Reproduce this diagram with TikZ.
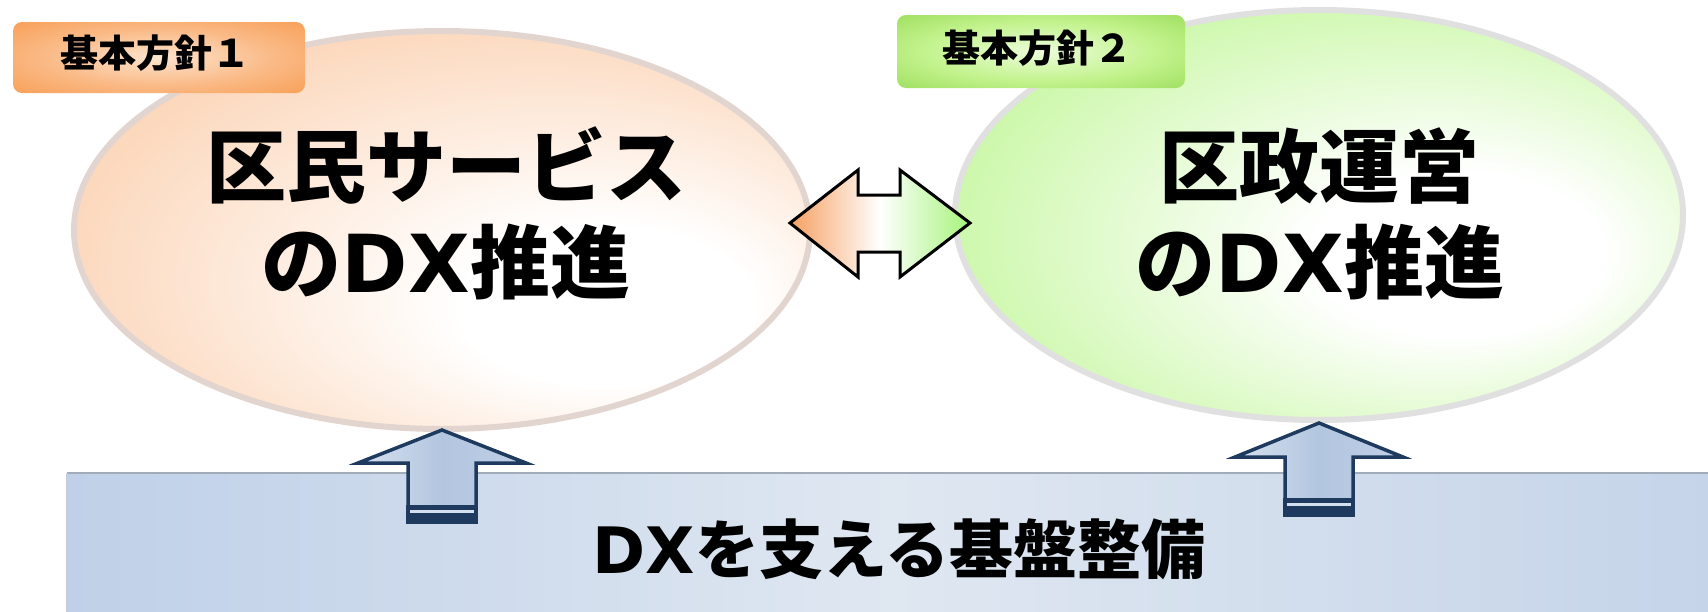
\documentclass[tikz,border=0pt]{standalone}
\usepackage{fontspec}
\newfontfamily\jpb{Noto Sans CJK JP Black}
\newfontfamily\latb{DejaVu Sans Bold}
\usetikzlibrary{shapes.geometric,calc}
\definecolor{oC}{HTML}{FCDAC0}
\definecolor{oD}{HTML}{F9BF94}
\definecolor{oE}{HTML}{F7AC74}
\definecolor{gC}{HTML}{CDF8AC}
\definecolor{gD}{HTML}{A2EE6E}
\definecolor{gE}{HTML}{8EE655}
\definecolor{lo1}{HTML}{FDE4CE}
\definecolor{lo2}{HTML}{FAB985}
\definecolor{lo3}{HTML}{F79646}
\definecolor{lo4}{HTML}{F58A35}
\definecolor{lg1}{HTML}{ECFDDB}
\definecolor{lg2}{HTML}{C3F38E}
\definecolor{lg3}{HTML}{92D84F}
\definecolor{lg4}{HTML}{86CF42}
\definecolor{navy}{HTML}{1F3A5F}
\definecolor{arrL}{HTML}{D5E0EE}
\definecolor{arrM}{HTML}{B3C6E0}
\definecolor{arrR}{HTML}{BFCFE5}
\definecolor{baseL}{HTML}{BFD0E8}
\definecolor{baseM}{HTML}{DFE7F1}
\definecolor{baseR}{HTML}{C5D4E9}
\definecolor{rimO}{HTML}{E2D5D0}
\definecolor{rimG}{HTML}{E0E0E0}
\definecolor{dOr}{HTML}{F6A062}
\definecolor{dGr}{HTML}{A6F37B}
\definecolor{shadow}{HTML}{A2ABB8}
\pgfdeclareradialshading{ellO}{\pgfpoint{14bp}{-12bp}}{color(0bp)=(white); color(10bp)=(white); color(30bp)=(oC); color(45bp)=(oD); color(50bp)=(oE)}
\pgfdeclareradialshading{ellG}{\pgfpoint{12bp}{-6bp}}{color(0bp)=(white); color(10bp)=(white); color(30bp)=(gC); color(45bp)=(gD); color(50bp)=(gE)}
\pgfdeclareradialshading{labO}{\pgfpoint{0bp}{0bp}}{color(0bp)=(lo1); color(20bp)=(lo2); color(42bp)=(lo3); color(50bp)=(lo4)}
\pgfdeclareradialshading{labG}{\pgfpoint{0bp}{0bp}}{color(0bp)=(lg1); color(20bp)=(lg2); color(42bp)=(lg3); color(50bp)=(lg4)}
\begin{document}
\begin{tikzpicture}[x=1pt,y=-1pt,
  oval/.style={ellipse, inner sep=0pt, outer sep=0pt, line width=6pt},
  tagbox/.style={rectangle, rounded corners=9pt, inner sep=0pt, outer sep=0pt},
  tagtext/.style={font=\jpb\fontsize{38}{40}\selectfont, anchor=base, inner sep=0pt},
  bigtext/.style={font=\jpb\fontsize{80}{96}\selectfont, anchor=base, inner sep=0pt},
  basetext/.style={font=\jpb\fontsize{64}{70}\selectfont, anchor=base, inner sep=0pt},
  uparrow/.style={draw=navy, line width=3.5pt, line join=miter, left color=arrL, right color=arrR, middle color=arrM},
  dblarrow/.style={draw=black, line width=3pt, line join=miter, left color=dOr, right color=dGr, middle color=white}]
\useasboundingbox (0,0) rectangle (1708,611);
\clip (0,0) rectangle (1708,611);
% ellipses
\node[oval, draw=rimO, shading=ellO, minimum width=736pt, minimum height=398pt] (e1) at (442,230) {};
\node[oval, draw=rimG, shading=ellG, minimum width=728pt, minimum height=410pt] (e2) at (1319,215) {};
% tags
\node[tagbox, shading=labO, minimum width=292pt, minimum height=71pt] (tag1) at (159,57.5) {};
\node[tagtext] (tag1t) at (155,67) {基本方針１};
\node[tagbox, shading=labG, minimum width=288pt, minimum height=73pt] (tag2) at (1041,51.5) {};
\node[tagtext] (tag2t) at (1037,62) {基本方針２};
% double arrow
\draw[dblarrow] (790,223) -- (858,170) -- (858,195) -- (900,195) -- (900,170) -- (970,223)
  -- (900,277) -- (900,252) -- (858,252) -- (858,277) -- cycle;
% base
\node[rectangle, inner sep=0pt, outer sep=0pt, anchor=north west, minimum width=1650pt, minimum height=145pt,
  left color=baseL, right color=baseR, middle color=baseM] (base) at (67,473) {};
\draw[shadow, line width=2.5pt] (base.north west) -- (base.north east);
\draw[shadow!60, line width=1.5pt] (base.north west) -- (base.south west);
% up arrows
\draw[uparrow] ($(e1.south)+(0,1)$) coordinate (T1) -- ++(-84,33) -- ++(50,0) -- ++(0,59) -- ++(68,0) -- ++(0,-59) -- ++(50,0) -- cycle;
\fill[navy] ($(T1)+(-35.75,75)$) rectangle ($(T1)+(35.75,93.75)$);
\draw[arrL, line width=3pt] ($(T1)+(-32,81.5)$) -- ($(T1)+(32,81.5)$);
\draw[uparrow] ($(e2.south)+(0,3)$) coordinate (T2) -- ++(-84,34) -- ++(50,0) -- ++(0,58) -- ++(68,0) -- ++(0,-58) -- ++(50,0) -- cycle;
\fill[navy] ($(T2)+(-35.75,75)$) rectangle ($(T2)+(35.75,93.75)$);
\draw[arrL, line width=3pt] ($(T2)+(-32,81.5)$) -- ($(T2)+(32,81.5)$);
% texts
\node[bigtext] (t1a) at (446,196) {区民サービス};
\node[bigtext] (t1b) at (446,292) {の{\latb DX}推進};
\node[bigtext] (t2a) at (1319,196) {区政運営};
\node[bigtext] (t2b) at (1320,292) {の{\latb DX}推進};
\node[basetext] (bt) at (899,573) {{\latb DX}を支える基盤整備};
\end{tikzpicture}
\end{document}
